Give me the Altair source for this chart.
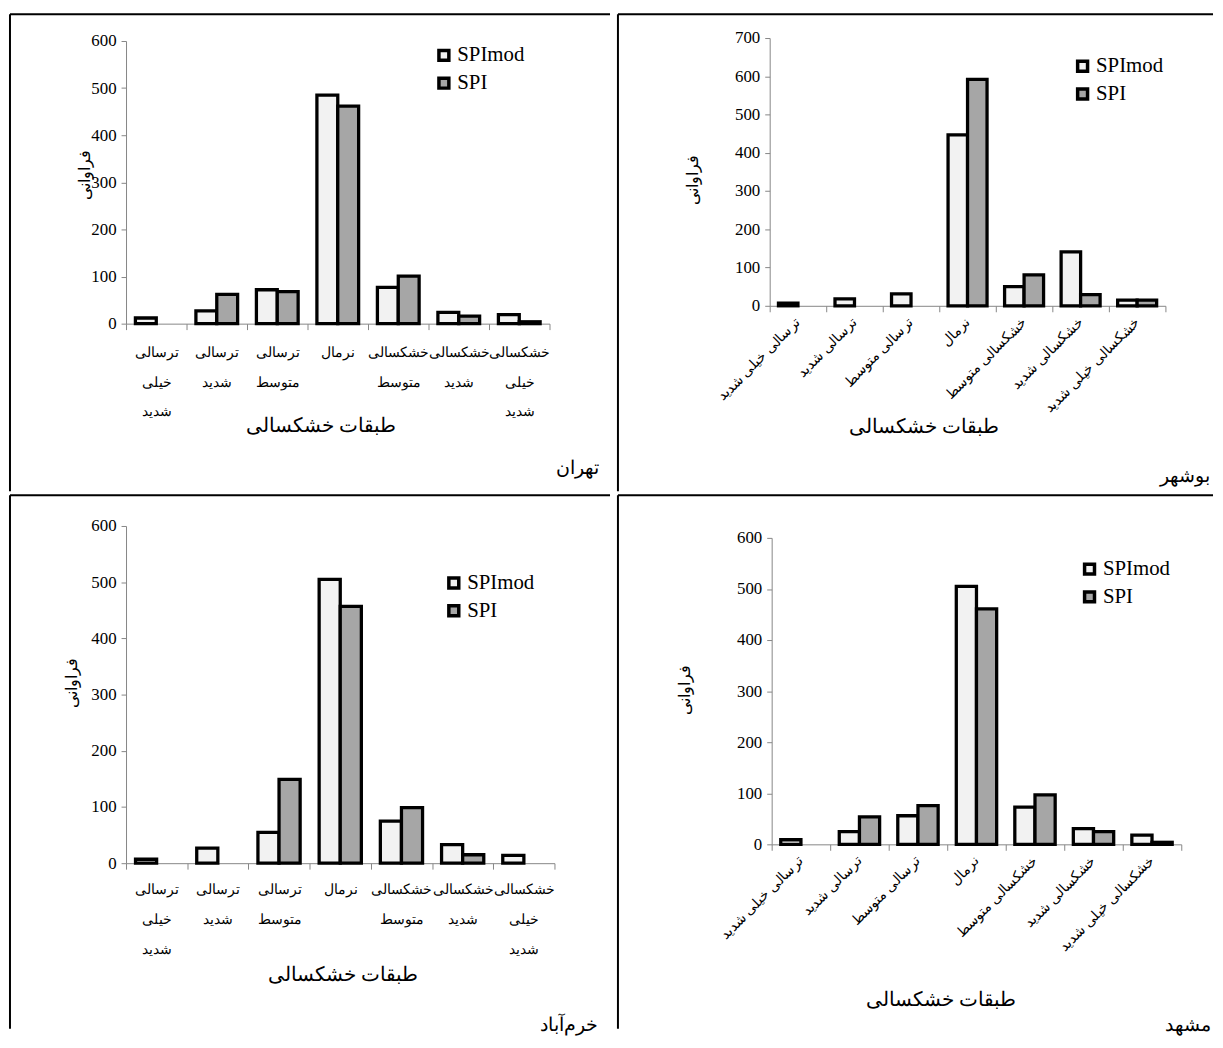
import altair as alt
import pandas as pd

categories = ["ترسالی خیلی شدید", "ترسالی شدید", "ترسالی متوسط", "نرمال",
              "خشکسالی متوسط", "خشکسالی شدید", "خشکسالی خیلی شدید"]
series = ["SPImod", "SPI"]
colors = ["#f2f2f2", "#a6a6a6"]

tehran_spimod = [12, 27, 72, 485, 77, 24, 19]
tehran_spi = [0, 62, 68, 462, 101, 16, 4]
bushehr_spimod = [7, 18, 31, 447, 50, 141, 15]
bushehr_spi = [0, 0, 0, 592, 81, 29, 15]
khorramabad_spimod = [7, 27, 55, 505, 75, 33, 14]
khorramabad_spi = [0, 0, 149, 457, 99, 15, 0]
mashhad_spimod = [9, 25, 56, 505, 73, 31, 18]
mashhad_spi = [0, 54, 76, 461, 97, 25, 4]

cities = ["تهران", "بوشهر", "خرم‌آباد", "مشهد"]
x_title = "طبقات خشکسالی"
y_title = "فراوانی"

NUM_FONT = "Liberation Serif"
AR_FONT = "Liberation Serif"
AXIS_GREY = "#868686"


def panel(city, smod, spi, W, H, xr, yr, ymax, rotated, legend_xy, ytitle_xy,
          xtitle_xy, city_xy, label_pad=16, line_h=30):
    rows = []
    for i, c in enumerate(categories):
        rows.append({"cat": c, "series": "SPImod", "value": smod[i]})
        rows.append({"cat": c, "series": "SPI", "value": spi[i]})
    df = pd.DataFrame(rows)

    common = dict(
        title=x_title, orient="bottom", offset=-(H - yr[0]),
        labelFont=AR_FONT, labelFontSize=14, labelColor="black",
        labelOverlap=False, labelLimit=400,
        tickBand="extent", tickSize=6, tickColor=AXIS_GREY,
        domainColor=AXIS_GREY, domainWidth=1,
        titleFont=AR_FONT, titleFontSize=20, titleFontWeight="normal",
        titleColor="black", titleX=xtitle_xy[0], titleY=xtitle_xy[1],
        titleAlign="center", titleBaseline="middle", grid=False)
    if rotated:
        xaxis = alt.Axis(labelAngle=315, labelAlign="right",
                         labelBaseline="middle", labelPadding=label_pad,
                         **common)
    else:
        xaxis = alt.Axis(labelExpr="split(datum.label, ' ')",
                         labelLineHeight=line_h, labelAngle=0,
                         labelAlign="center", labelBaseline="top",
                         labelPadding=label_pad, **common)

    yaxis = alt.Axis(
        title=y_title, orient="left", offset=-xr[0],
        values=list(range(0, ymax + 1, 100)), labelFont=NUM_FONT,
        labelFontSize=17, labelColor="black", labelPadding=5,
        tickSize=5, tickColor=AXIS_GREY, domainColor=AXIS_GREY,
        domainWidth=1, grid=False,
        titleFont=AR_FONT, titleFontSize=16, titleFontWeight="normal",
        titleColor="black", titleAngle=270, titleX=ytitle_xy[0],
        titleY=ytitle_xy[1], titleAlign="center", titleBaseline="middle")

    bars = alt.Chart(df).transform_filter("datum.value > 0").mark_bar(
        stroke="black", strokeWidth=3.3
    ).encode(
        x=alt.X("cat:N", sort=categories,
                scale=alt.Scale(domain=categories, range=xr,
                                paddingInner=0, paddingOuter=0),
                axis=xaxis),
        xOffset=alt.XOffset("series:N", sort=series,
                            scale=alt.Scale(domain=series, paddingInner=0,
                                            paddingOuter=0.45)),
        y=alt.Y("value:Q",
                scale=alt.Scale(domain=[0, ymax], range=yr, nice=False,
                                zero=True),
                axis=yaxis),
        color=alt.Color("series:N",
                        scale=alt.Scale(domain=series, range=colors),
                        title=None,
                        legend=alt.Legend(
                            orient="none", legendX=legend_xy[0],
                            legendY=legend_xy[1], symbolType="square",
                            symbolSize=100, symbolStrokeColor="black",
                            symbolStrokeWidth=3.5, labelFont=NUM_FONT,
                            labelFontSize=21, labelColor="black",
                            labelOffset=3, rowPadding=3, padding=0)),
    )

    one = pd.DataFrame({"city": [city]})
    border_left = alt.Chart(one).mark_rule(color="black", strokeWidth=2).encode(
        x=alt.value(0), y=alt.value(0), y2=alt.value(H))
    border_top = alt.Chart(one).mark_rule(color="black", strokeWidth=2).encode(
        x=alt.value(0), x2=alt.value(W), y=alt.value(0))
    label = alt.Chart(one).mark_text(
        align="right", baseline="middle", font=AR_FONT, fontSize=19,
        color="black").encode(
        x=alt.value(city_xy[0]), y=alt.value(city_xy[1]), text="city:N")

    return alt.layer(bars, border_left, border_top, label).properties(
        width=W, height=H)


p1 = panel(cities[0], tehran_spimod, tehran_spi, 605, 481, [117, 544],
           [312, 27], 600, False, (427, 31), (-42, 162), (313, 103),
           (594, 458), 16)
p2 = panel(cities[1], bushehr_spimod, bushehr_spi, 600, 481, [153, 552],
           [294, 24], 700, True, (458, 42), (-78, 167), (308, 122),
           (597, 466), 8)
p3 = panel(cities[2], khorramabad_spimod, khorramabad_spi, 605, 538,
           [117, 549], [371, 31], 600, False, (437, 78), (-55, 189),
           (335, 112), (593, 534), 14)
p4 = panel(cities[3], mashhad_spimod, mashhad_spi, 600, 538, [155, 568],
           [352, 43], 600, True, (465, 64), (-88, 196), (325, 156),
           (598, 534), 8)

top = alt.hconcat(p1, p2, spacing=0).resolve_scale(
    color="independent", x="independent", y="independent",
    xOffset="independent").resolve_legend(color="independent")
bottom = alt.hconcat(p3, p4, spacing=0).resolve_scale(
    color="independent", x="independent", y="independent",
    xOffset="independent").resolve_legend(color="independent")

chart = alt.vconcat(top, bottom, spacing=0).resolve_scale(
    color="independent").resolve_legend(color="independent").properties(
    padding={"left": 0, "top": 0, "right": 0, "bottom": 0},
    background="white",
).configure_view(stroke="transparent")

chart.save("out.html", embed_options={"renderer": "svg", "actions": False})
